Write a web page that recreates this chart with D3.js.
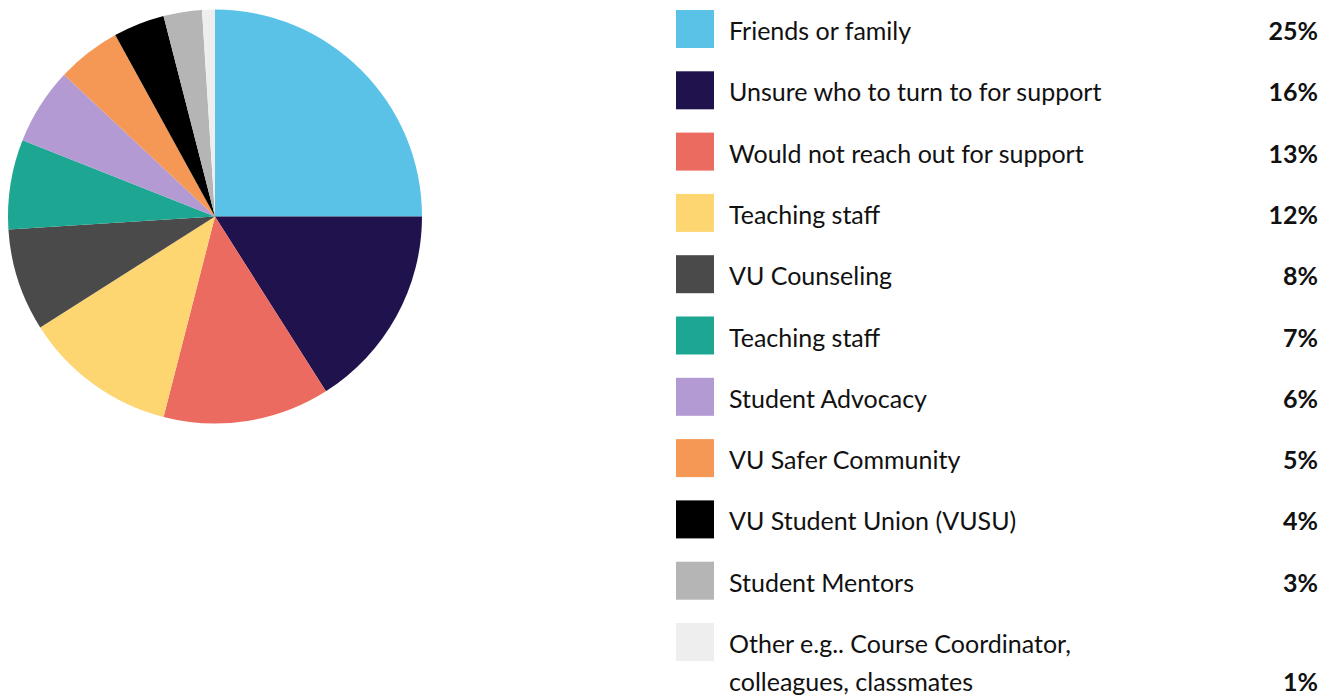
<!DOCTYPE html>
<html>
<head>
<meta charset="utf-8">
<script src="https://cdn.jsdelivr.net/npm/d3@7/dist/d3.min.js"></script>
<style>
  html, body { margin: 0; padding: 0; background: #ffffff; }
  svg { display: block; }
  text { font-family: Lato, "Source Sans Pro", "Noto Sans", sans-serif; fill: #111; }
</style>
</head>
<body>
<svg id="chart" width="1331" height="698"></svg>
<script>
// Where students would turn for support (share of responses, %)
const categories = [
  "Friends or family",
  "Unsure who to turn to for support",
  "Would not reach out for support",
  "Teaching staff",
  "VU Counseling",
  "Teaching staff",
  "Student Advocacy",
  "VU Safer Community",
  "VU Student Union (VUSU)",
  "Student Mentors",
  "Other e.g.. Course Coordinator, colleagues, classmates"
];
const values = [25, 16, 13, 12, 8, 7, 6, 5, 4, 3, 1];
const colors = [
  "#5BC2E7", "#20124D", "#EC6B61", "#FDD672", "#4A4A4A",
  "#1DA793", "#B39AD2", "#F59755", "#000000", "#B5B5B5", "#EEEEEE"
];
// Legend labels broken across lines where they wrap
const legendLines = [
  ["Friends or family"],
  ["Unsure who to turn to for support"],
  ["Would not reach out for support"],
  ["Teaching staff"],
  ["VU Counseling"],
  ["Teaching staff"],
  ["Student Advocacy"],
  ["VU Safer Community"],
  ["VU Student Union (VUSU)"],
  ["Student Mentors"],
  ["Other e.g.. Course Coordinator,", "colleagues, classmates"]
];

const data = categories.map((c, i) => ({ name: c, value: values[i], color: colors[i], lines: legendLines[i] }));

const svg = d3.select("#chart");

// Pie
const cx = 215, cy = 216.5, radius = 207;
const pie = d3.pie().value(d => d.value).sort(null);
const arc = d3.arc().innerRadius(0).outerRadius(radius);

svg.append("g")
  .attr("transform", `translate(${cx},${cy})`)
  .selectAll("path")
  .data(pie(data))
  .join("path")
  .attr("d", arc)
  .attr("fill", d => d.data.color);

// Legend
const rowY = d3.scalePoint()
  .domain(d3.range(data.length))
  .range([10, 623]);

const fontSize = 25;
const lineH = 38;

const rows = svg.append("g").selectAll("g")
  .data(data)
  .join("g")
  .attr("transform", (d, i) => `translate(0,${rowY(i)})`);

rows.append("rect")
  .attr("x", 676)
  .attr("y", 0)
  .attr("width", 38)
  .attr("height", 38)
  .attr("fill", d => d.color);

rows.each(function(d) {
  const g = d3.select(this);
  d.lines.forEach((ln, j) => {
    g.append("text")
      .attr("x", 729)
      .attr("y", 30 + j * lineH)
      .attr("font-size", fontSize)
      .text(ln);
  });
  g.append("text")
    .attr("x", 1318)
    .attr("y", 30 + (d.lines.length - 1) * lineH)
    .attr("text-anchor", "end")
    .attr("font-size", fontSize)
    .attr("font-weight", "bold")
    .text(d3.format("d")(d.value) + "%");
});
</script>
</body>
</html>
